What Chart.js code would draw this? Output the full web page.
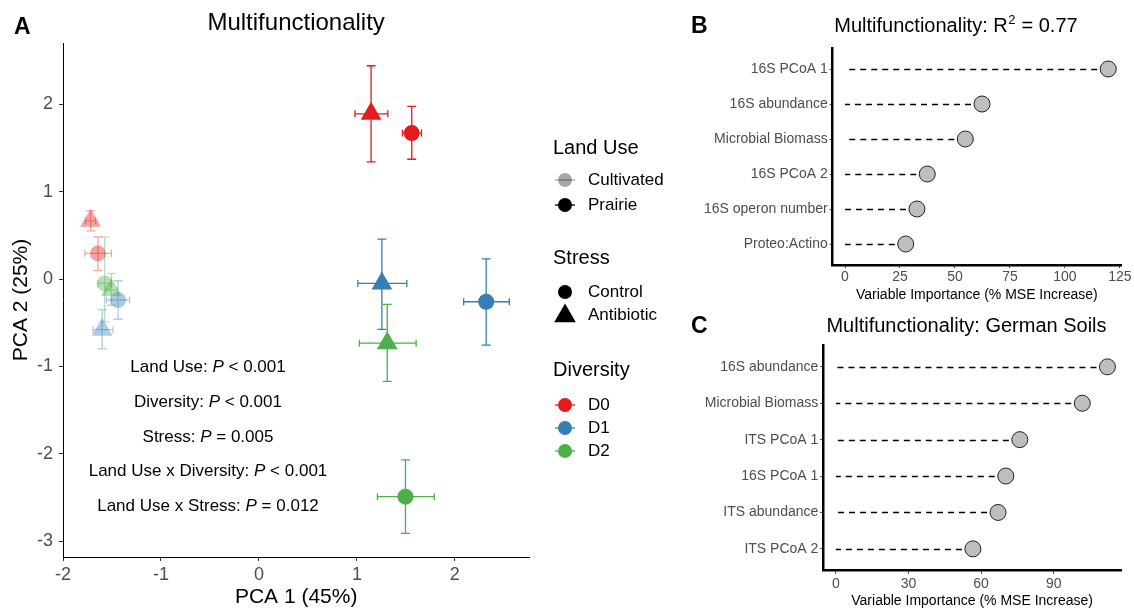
<!DOCTYPE html>
<html>
<head>
<meta charset="utf-8">
<script src="https://cdn.jsdelivr.net/npm/chart.js@4.4.1/dist/chart.umd.min.js"></script>
<style>
  body { margin: 0; background: #fff; width: 1134px; height: 610px; position: relative; overflow: hidden; }
  canvas { position: absolute; }
</style>
</head>
<body>
<canvas id="pca" width="690" height="610" style="left:0;top:0"></canvas>
<canvas id="rfB" width="444" height="310" style="left:690px;top:0"></canvas>
<canvas id="rfC" width="444" height="310" style="left:690px;top:300px"></canvas>
<script>
// ---- panel A data (PCA group means with error bars) ----
const ptLand   = ['Cultivated','Cultivated','Cultivated','Cultivated','Cultivated','Cultivated',
                  'Prairie','Prairie','Prairie','Prairie','Prairie','Prairie'];
const ptStress = ['Control','Antibiotic','Control','Antibiotic','Control','Antibiotic',
                  'Control','Antibiotic','Control','Antibiotic','Control','Antibiotic'];
const ptDiv    = ['D0','D0','D1','D1','D2','D2','D0','D0','D1','D1','D2','D2'];
const pca1     = [-1.643, -1.718, -1.438, -1.600, -1.575, -1.506, 1.560, 1.145, 2.320, 1.255, 1.496, 1.310];
const pca1Lo   = [-1.776, -1.770, -1.557, -1.694, -1.640, -1.560, 1.465, 0.980, 2.090, 1.010, 1.210, 1.026];
const pca1Hi   = [-1.506, -1.667, -1.320, -1.490, -1.510, -1.450, 1.660, 1.316, 2.556, 1.510, 1.790, 1.605];
const pca2     = [0.293, 0.666, -0.240, -0.580, -0.050, -0.126, 1.670, 1.890, -0.260, -0.050, -2.490, -0.734];
const pca2Lo   = [0.095, 0.550, -0.460, -0.800, -0.490, -0.300, 1.370, 1.340, -0.757, -0.575, -2.910, -1.170];
const pca2Hi   = [0.483, 0.780, -0.020, -0.354, 0.480, 0.065, 1.975, 2.440, 0.230, 0.457, -2.070, -0.290];

const divLevels = ['D0', 'D1', 'D2'];
const divColors = { D0: '#E41A1C', D1: '#377EB8', D2: '#4DAF4A' };
const statLines = [
  ['Land Use: ', 'P', ' < 0.001'],
  ['Diversity: ', 'P', ' < 0.001'],
  ['Stress: ', 'P', ' = 0.005'],
  ['Land Use x Diversity: ', 'P', ' < 0.001'],
  ['Land Use x Stress: ', 'P', ' = 0.012']
];

// ---- panel B / C data (random forest importance) ----
const rfLabelsB = ['16S PCoA 1', '16S abundance', 'Microbial Biomass', '16S PCoA 2', '16S operon number', 'Proteo:Actino'];
const rfValuesB = [119.7, 62.3, 54.7, 37.4, 32.7, 27.6];
const rfLabelsC = ['16S abundance', 'Microbial Biomass', 'ITS PCoA 1', '16S PCoA 1', 'ITS abundance', 'ITS PCoA 2'];
const rfValuesC = [112.2, 101.8, 76.0, 70.2, 67.0, 56.6];

const FONT = "'Liberation Sans', Arial, Helvetica, sans-serif";
Chart.defaults.font.family = FONT;

function rgba(hex, a) {
  const n = parseInt(hex.slice(1), 16);
  return 'rgba(' + (n >> 16) + ',' + ((n >> 8) & 255) + ',' + (n & 255) + ',' + a + ')';
}
function ptColor(i) {
  return rgba(divColors[ptDiv[i]], ptLand[i] === 'Cultivated' ? 0.4 : 1);
}

// datasets: one per land use x stress combination
const pcaSets = [];
['Cultivated', 'Prairie'].forEach(function (land) {
  ['Control', 'Antibiotic'].forEach(function (stress) {
    const idx = [];
    for (let i = 0; i < pca1.length; i++) if (ptLand[i] === land && ptStress[i] === stress) idx.push(i);
    pcaSets.push({
      label: land + ' ' + stress,
      data: idx.map(i => ({ x: pca1[i], y: pca2[i] })),
      pointStyle: stress === 'Control' ? 'circle' : 'triangle',
      pointRadius: stress === 'Control' ? 8 : 12,
      pointBackgroundColor: idx.map(ptColor),
      pointBorderWidth: 0,
      showLine: false
    });
  });
});

const errorBars = {
  id: 'errorBars',
  beforeDatasetsDraw(chart) {
    const { ctx, scales: { x, y } } = chart;
    ctx.save();
    ctx.lineWidth = 1.3;
    for (let i = 0; i < pca1.length; i++) {
      const px = x.getPixelForValue(pca1[i]), py = y.getPixelForValue(pca2[i]);
      const x0 = x.getPixelForValue(pca1Lo[i]), x1 = x.getPixelForValue(pca1Hi[i]);
      const y0 = y.getPixelForValue(pca2Lo[i]), y1 = y.getPixelForValue(pca2Hi[i]);
      ctx.strokeStyle = ptColor(i);
      ctx.beginPath();
      ctx.moveTo(x0, py); ctx.lineTo(x1, py);
      ctx.moveTo(x0, py - 3.5); ctx.lineTo(x0, py + 3.5);
      ctx.moveTo(x1, py - 3.5); ctx.lineTo(x1, py + 3.5);
      ctx.moveTo(px, y0); ctx.lineTo(px, y1);
      ctx.moveTo(px - 4.5, y0); ctx.lineTo(px + 4.5, y0);
      ctx.moveTo(px - 4.5, y1); ctx.lineTo(px + 4.5, y1);
      ctx.stroke();
    }
    ctx.restore();
  }
};

function dot(ctx, x, y, r, color, withLine) {
  ctx.fillStyle = color;
  ctx.beginPath();
  ctx.arc(x, y, r, 0, Math.PI * 2);
  ctx.fill();
  if (withLine) {
    ctx.strokeStyle = color;
    ctx.lineWidth = 1.3;
    ctx.beginPath();
    ctx.moveTo(x - 10, y); ctx.lineTo(x + 10, y);
    ctx.stroke();
  }
}
function tri(ctx, x, y, r, color) {
  ctx.fillStyle = color;
  ctx.beginPath();
  ctx.moveTo(x, y - r);
  ctx.lineTo(x + r * 0.866, y + r / 2);
  ctx.lineTo(x - r * 0.866, y + r / 2);
  ctx.closePath();
  ctx.fill();
}

const pcaDecor = {
  id: 'pcaDecor',
  afterDraw(chart) {
    const ctx = chart.ctx;
    const area = chart.chartArea;
    ctx.save();
    // panel letter + title
    ctx.fillStyle = '#000';
    ctx.textBaseline = 'alphabetic';
    ctx.textAlign = 'left';
    ctx.font = 'bold 23px ' + FONT;
    ctx.fillText('A', 14, 34);
    ctx.textAlign = 'center';
    ctx.font = '24px ' + FONT;
    ctx.fillText('Multifunctionality', (area.left + area.right) / 2, 30);

    // statistics text
    ctx.textAlign = 'left';
    ctx.textBaseline = 'middle';
    const ys = [367, 402, 437, 471, 506];
    statLines.forEach(function (parts, k) {
      const fonts = ['17px ' + FONT, 'italic 17px ' + FONT, '17px ' + FONT];
      let w = 0;
      parts.forEach(function (p, j) { ctx.font = fonts[j]; w += ctx.measureText(p).width; });
      let xx = 208 - w / 2;
      parts.forEach(function (p, j) {
        ctx.font = fonts[j];
        ctx.fillText(p, xx, ys[k]);
        xx += ctx.measureText(p).width;
      });
    });

    // legend
    const sx = 565, tx = 588;
    ctx.font = '20px ' + FONT;
    ctx.fillText('Land Use', 553, 148);
    ctx.fillText('Stress', 553, 258);
    ctx.fillText('Diversity', 553, 370);
    ctx.font = '17px ' + FONT;
    dot(ctx, sx, 180, 7, 'rgba(0,0,0,0.35)', true);
    dot(ctx, sx, 205, 7, '#000', true);
    ctx.fillStyle = '#000';
    ctx.fillText('Cultivated', tx, 180);
    ctx.fillText('Prairie', tx, 205);
    dot(ctx, sx, 292, 7, '#000', false);
    tri(ctx, sx, 316, 12.5, '#000');
    ctx.fillStyle = '#000';
    ctx.fillText('Control', tx, 292);
    ctx.fillText('Antibiotic', tx, 315);
    const dy = [405, 428, 451];
    divLevels.forEach(function (d, k) {
      dot(ctx, sx, dy[k], 7, divColors[d], true);
      ctx.fillStyle = '#000';
      ctx.fillText(d, tx, dy[k]);
    });
    ctx.restore();
  }
};

new Chart(document.getElementById('pca'), {
  type: 'scatter',
  data: { datasets: pcaSets },
  options: {
    responsive: false,
    animation: false,
    events: [],
    layout: { padding: { left: 0, top: 43, right: 160.7, bottom: 0 } },
    plugins: { legend: { display: false }, tooltip: { enabled: false } },
    scales: {
      x: {
        type: 'linear', min: -2, max: 2.76,
        afterFit(s) { s.height = 53; },
        ticks: { stepSize: 1, includeBounds: false, color: '#4D4D4D', font: { size: 18 }, padding: 3 },
        grid: { drawOnChartArea: false, drawTicks: true, tickLength: 4, color: '#333' },
        border: { display: true, color: '#000', width: 1 },
        title: { display: true, text: 'PCA 1 (45%)', color: '#000', font: { size: 21 }, padding: { top: 0, bottom: 0 } }
      },
      y: {
        type: 'linear', min: -3.18, max: 2.70,
        afterFit(s) { s.width = 63; },
        ticks: { stepSize: 1, includeBounds: false, color: '#4D4D4D', font: { size: 18 }, padding: 6 },
        grid: { drawOnChartArea: false, drawTicks: true, tickLength: 4, color: '#333' },
        border: { display: true, color: '#000', width: 1 },
        title: { display: true, text: 'PCA 2 (25%)', color: '#000', font: { size: 21 }, padding: { top: 9, bottom: 0 } }
      }
    }
  },
  plugins: [errorBars, pcaDecor]
});

// ---- lollipop panels ----
function lollipop(id, labels, values, opts) {
  const stems = {
    id: 'stems',
    beforeDatasetsDraw(chart) {
      const { ctx, scales: { x, y } } = chart;
      ctx.save();
      ctx.strokeStyle = '#000';
      ctx.lineWidth = 1.5;
      ctx.setLineDash([6, 5]);
      values.forEach(function (v, i) {
        const py = Math.round(y.getPixelForValue(i)) + 0.5;
        ctx.beginPath();
        ctx.moveTo(x.getPixelForValue(v), py);
        ctx.lineTo(x.getPixelForValue(0), py);
        ctx.stroke();
      });
      ctx.restore();
    }
  };
  const heading = {
    id: 'heading',
    afterDraw(chart) {
      const ctx = chart.ctx;
      ctx.save();
      ctx.fillStyle = '#000';
      ctx.textBaseline = 'alphabetic';
      ctx.textAlign = 'left';
      ctx.font = 'bold 23px ' + FONT;
      ctx.fillText(opts.letter, 1, opts.titleY + 1);
      opts.drawTitle(ctx, opts.titleCx, opts.titleY);
      ctx.restore();
    }
  };
  return new Chart(document.getElementById(id), {
    type: 'scatter',
    data: {
      datasets: [{
        data: values.map((v, i) => ({ x: v, y: i })),
        pointRadius: 8,
        pointBackgroundColor: '#BEBEBE',
        pointBorderColor: '#222',
        pointBorderWidth: 1,
        showLine: false
      }]
    },
    options: {
      responsive: false,
      animation: false,
      events: [],
      layout: { padding: { left: 0, top: opts.top, right: opts.right, bottom: 0 } },
      plugins: { legend: { display: false }, tooltip: { enabled: false } },
      scales: {
        x: {
          type: 'linear', min: opts.xmin, max: opts.xmax,
          afterFit(s) { s.height = opts.xHeight; },
          ticks: { stepSize: opts.step, includeBounds: false, color: '#4D4D4D', font: { size: 14 }, padding: opts.xTickPad },
          grid: { drawOnChartArea: false, drawTicks: true, tickLength: 3, color: '#333' },
          border: { display: true, color: '#000', width: 2.5 },
          title: { display: true, text: 'Variable Importance (% MSE Increase)', color: '#000', font: { size: 14 },
                   padding: { top: 0, bottom: opts.xTitlePad } }
        },
        y: {
          type: 'linear', min: -0.6, max: 5.6, reverse: true,
          afterFit(s) { s.width = opts.yWidth; },
          ticks: { stepSize: 1, includeBounds: false, color: '#4D4D4D', font: { size: 14 }, padding: 2,
                   callback: v => labels[Math.round(v)] },
          grid: { drawOnChartArea: false, drawTicks: true, tickLength: 3, color: '#333' },
          border: { display: true, color: '#000', width: 2.5 }
        }
      }
    },
    plugins: [stems, heading]
  });
}

lollipop('rfB', rfLabelsB, rfValuesB, {
  xmin: -5.6, xmax: 125.5, step: 25, top: 48, right: 13, yWidth: 142.7, xHeight: 45,
  xTickPad: 1, xTitlePad: 6.6, letter: 'B', titleCx: 265.5, titleY: 31.5,
  drawTitle(ctx, cx, y) {
    const a = 'Multifunctionality: R', b = '2', c = ' = 0.77';
    ctx.font = '20px ' + FONT;
    const wa = ctx.measureText(a).width, wc = ctx.measureText(c).width;
    ctx.font = '13px ' + FONT;
    const wb = ctx.measureText(b).width;
    let x = cx - (wa + wb + wc) / 2;
    ctx.font = '20px ' + FONT;
    ctx.fillText(a, x, y);
    ctx.font = '13px ' + FONT;
    ctx.fillText(b, x + wa + 0.5, y - 8);
    ctx.font = '20px ' + FONT;
    ctx.fillText(c, x + wa + wb + 1, y);
  }
});

lollipop('rfC', rfLabelsC, rfValuesC, {
  xmin: -5.2, xmax: 117.8, step: 30, top: 45, right: 13, yWidth: 133.3, xHeight: 39.3,
  xTickPad: 1.8, xTitlePad: 0, letter: 'C', titleCx: 276.5, titleY: 31.5,
  drawTitle(ctx, cx, y) {
    ctx.font = '20px ' + FONT;
    ctx.textAlign = 'center';
    ctx.fillText('Multifunctionality: German Soils', cx, y);
  }
});
</script>
</body>
</html>
